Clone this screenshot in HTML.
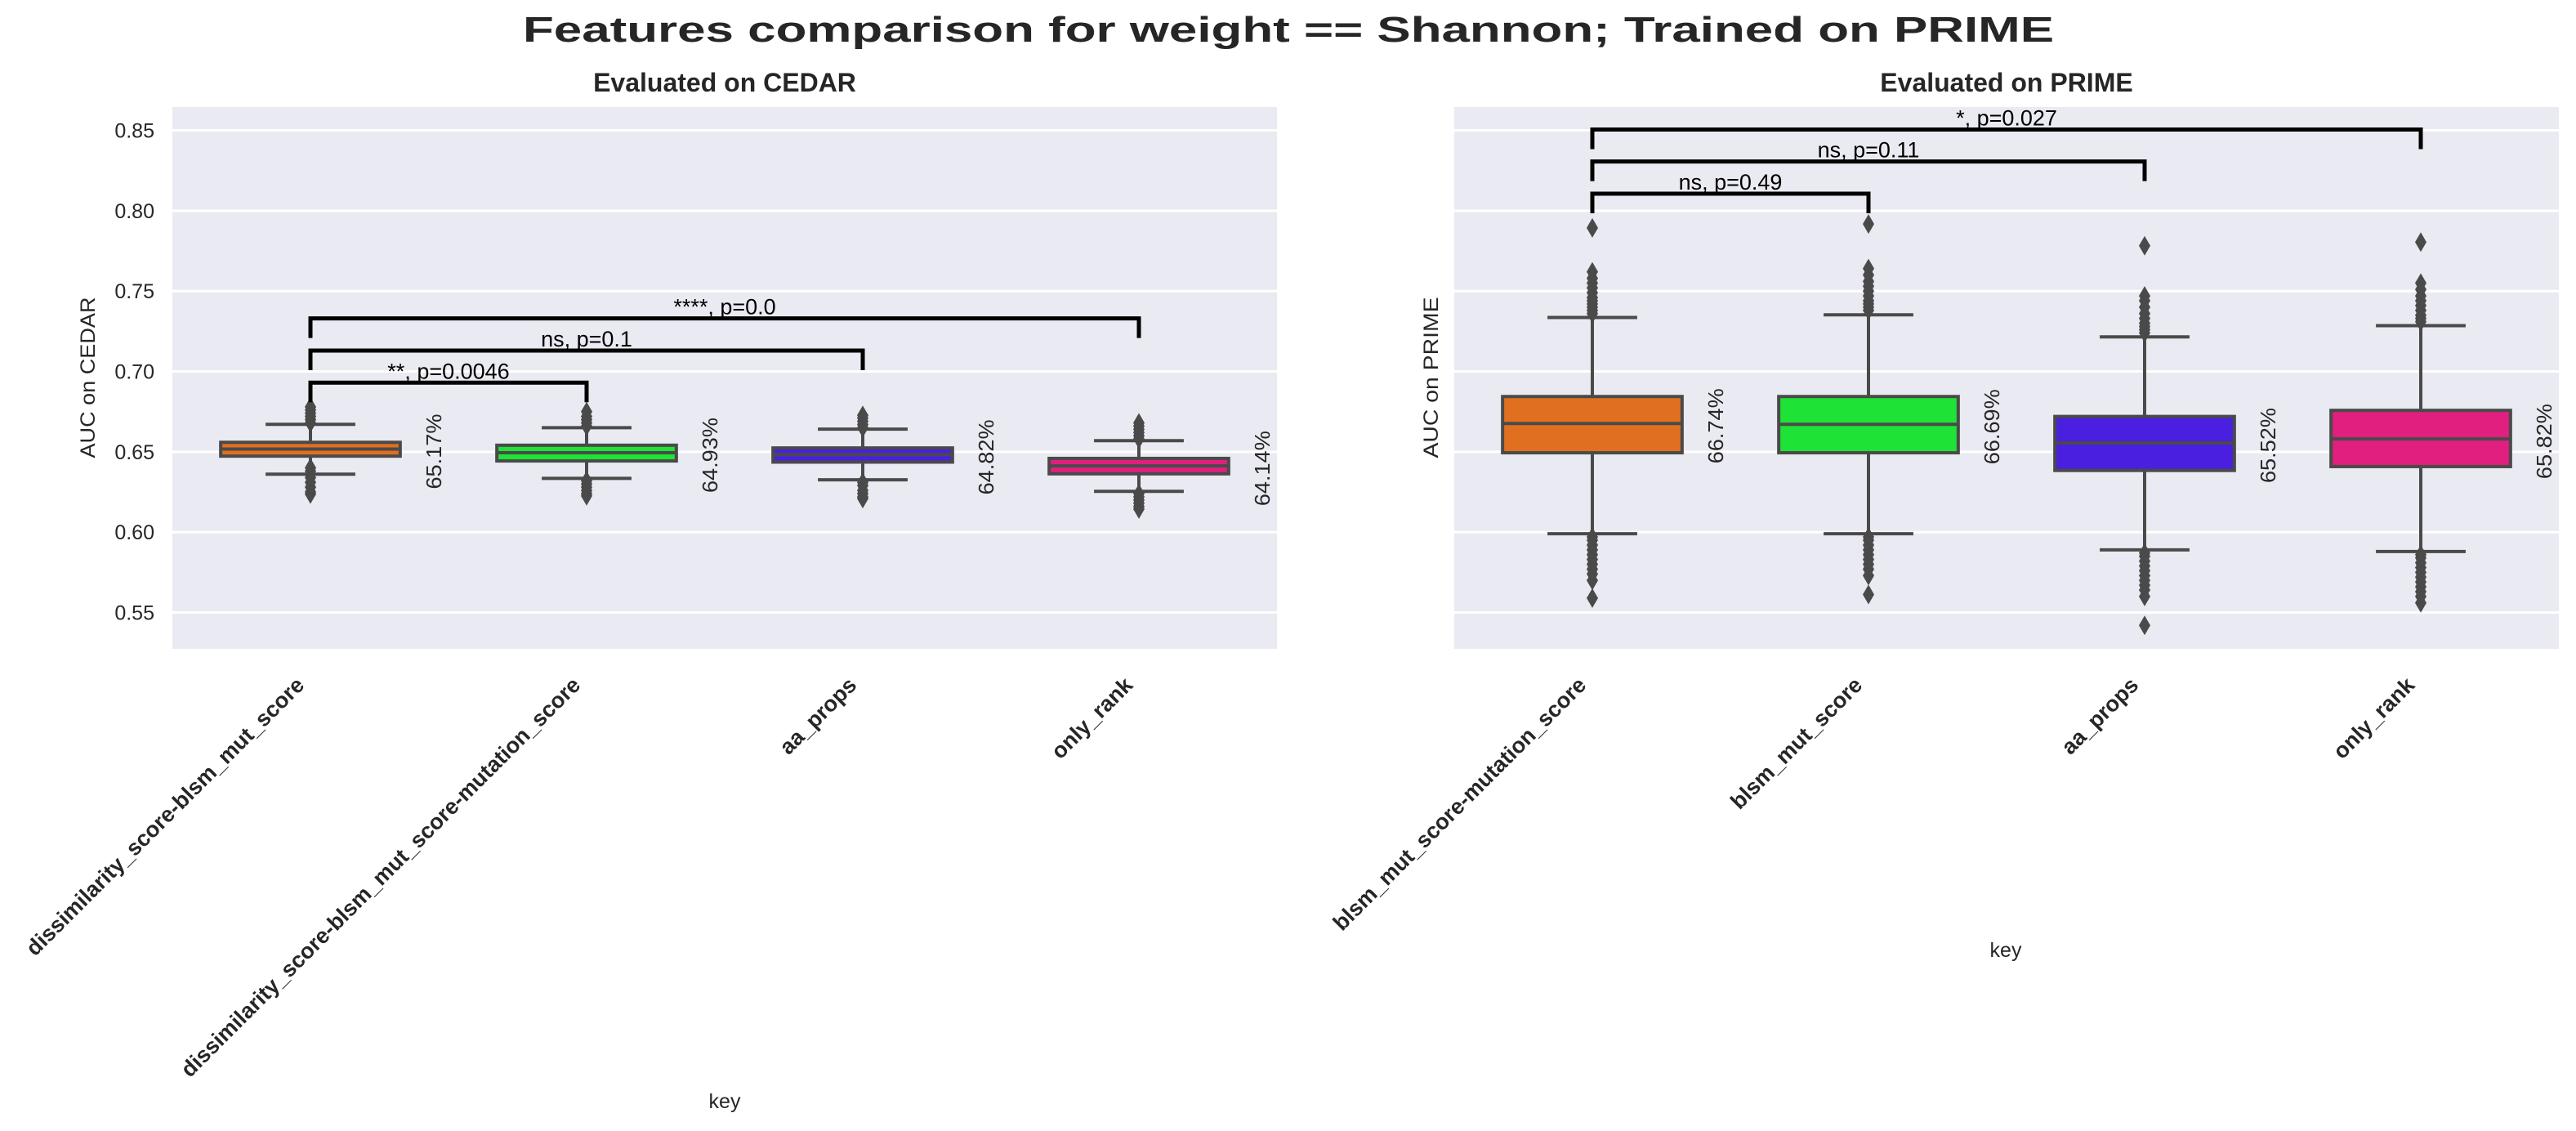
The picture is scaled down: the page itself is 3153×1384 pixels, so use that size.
<!DOCTYPE html>
<html><head><meta charset="utf-8"><style>
html,body{margin:0;padding:0;background:#fff}
svg{display:block}
text{font-family:"Liberation Sans",Arial,sans-serif;fill:#262626}
</style></head><body>
<svg id="chart" width="3153" height="1384" viewBox="0 0 3153 1384" xmlns="http://www.w3.org/2000/svg">
<text x="1577" y="51" text-anchor="middle" font-size="44" font-weight="bold" textLength="1874" lengthAdjust="spacingAndGlyphs">Features comparison for weight == Shannon; Trained on PRIME</text>
</svg>
<script>
// ---- data ----
const leftCategories = ["dissimilarity_score-blsm_mut_score","dissimilarity_score-blsm_mut_score-mutation_score","aa_props","only_rank"];
const leftQ1 = [0.6473,0.6443,0.6436,0.6363];
const leftMedian = [0.6517,0.6494,0.6482,0.6412];
const leftQ3 = [0.6559,0.6541,0.6524,0.6459];
const leftWhiskLo = [0.6361,0.6335,0.6326,0.6254];
const leftWhiskHi = [0.6671,0.6650,0.6641,0.6569];
const leftFliers = [
 [0.6680,0.6700,0.6720,0.6740,0.6760,0.6779,0.6400,0.6380,0.6340,0.6310,0.6280,0.6250,0.6237],
 [0.6660,0.6680,0.6700,0.6720,0.6750,0.6320,0.6300,0.6280,0.6260,0.6240,0.6226],
 [0.6650,0.6670,0.6690,0.6710,0.6727,0.6310,0.6290,0.6260,0.6240,0.6220,0.6209],
 [0.6580,0.6600,0.6620,0.6640,0.6660,0.6680,0.6240,0.6220,0.6200,0.6180,0.6160,0.6144]
];
const leftPct = ["65.17%","64.93%","64.82%","64.14%"];
const leftPairs = [[0,1],[0,2],[0,3]];
const leftPairTop = [0.693,0.713,0.733];
const leftPairText = ["**, p=0.0046","ns, p=0.1","****, p=0.0"];

const rightCategories = ["blsm_mut_score-mutation_score","blsm_mut_score","aa_props","only_rank"];
const rightQ1 = [0.6494,0.6494,0.6384,0.6408];
const rightMedian = [0.6676,0.6671,0.6555,0.6580];
const rightQ3 = [0.6844,0.6844,0.6720,0.6758];
const rightWhiskLo = [0.5990,0.5990,0.5890,0.5880];
const rightWhiskHi = [0.7336,0.7352,0.7215,0.7285];
const rightFliers = [
 [0.7360,0.7380,0.7400,0.7420,0.7440,0.7460,0.7490,0.7520,0.7550,0.7580,0.7620,0.7893,
  0.5970,0.5950,0.5920,0.5890,0.5860,0.5830,0.5800,0.5770,0.5740,0.5700,0.5590],
 [0.7380,0.7400,0.7420,0.7440,0.7470,0.7500,0.7530,0.7560,0.7600,0.7640,0.7917,
  0.5970,0.5950,0.5920,0.5890,0.5860,0.5830,0.5800,0.5770,0.5730,0.5612],
 [0.7240,0.7260,0.7280,0.7300,0.7330,0.7360,0.7400,0.7440,0.7470,0.7782,
  0.5870,0.5850,0.5820,0.5790,0.5760,0.5730,0.5700,0.5670,0.5640,0.5600,0.5420],
 [0.7310,0.7330,0.7350,0.7380,0.7410,0.7440,0.7470,0.7510,0.7550,0.7805,
  0.5860,0.5840,0.5810,0.5780,0.5750,0.5720,0.5690,0.5660,0.5630,0.5600,0.5560]
];
const rightPct = ["66.74%","66.69%","65.52%","65.82%"];
const rightPairs = [[0,1],[0,2],[0,3]];
const rightPairTop = [0.8106,0.8306,0.8505];
const rightPairText = ["ns, p=0.49","ns, p=0.11","*, p=0.027"];

const colors = ["#E07020","#1EE336","#4A1FE0","#E01F7F"];
const yTicks = [0.55,0.60,0.65,0.70,0.75,0.80,0.85];
const yTickLabels = ["0.55","0.60","0.65","0.70","0.75","0.80","0.85"];

// ---- drawing ----
const NS = "http://www.w3.org/2000/svg";
const svg = document.getElementById("chart");
const Y0 = 131, Y1 = 794, VMIN = 0.5274, VMAX = 0.8645;
function yScale(v){ return Y0 + (VMAX - v) / (VMAX - VMIN) * (Y1 - Y0); }
function mk(tag, attrs, parent){
  const e = document.createElementNS(NS, tag);
  for (const k in attrs) e.setAttribute(k, attrs[k]);
  (parent || svg).appendChild(e);
  return e;
}

function panel(cfg){
  const g = mk("g", {});
  
  
  const x0 = cfg.x0, x1 = cfg.x1, n = cfg.cats.length, band = (x1 - x0) / n;
  const xScale = i => x0 + band * (i + 0.5);
  const bg = mk("rect", {x:x0, y:Y0, width:x1-x0, height:Y1-Y0, fill:"#EAEAF2"}, g);
  
  
  yTicks.forEach((t, i) => {
    const gl = mk("line", {x1:x0, x2:x1, y1:yScale(t), y2:yScale(t), stroke:"#fff", "stroke-width":3}, g);
    
    
    if (cfg.showTicks){
      const tl = mk("text", {x:x0-22, y:yScale(t)+9, "text-anchor":"end", "font-size":25}, g);
      tl.textContent = yTickLabels[i];
      
      
    }
  });
  const bw = band * 0.65;
  for (let i = 0; i < n; i++){
    const cx = xScale(i);
    const bx = mk("g", {}, g);
    
    
    const st = {stroke:"#4a4a4a", "stroke-width":4};
    mk("line", Object.assign({x1:cx, x2:cx, y1:yScale(cfg.q3[i]), y2:yScale(cfg.wh[i])}, st), bx);
    mk("line", Object.assign({x1:cx, x2:cx, y1:yScale(cfg.q1[i]), y2:yScale(cfg.wl[i])}, st), bx);
    mk("line", Object.assign({x1:cx-bw/4, x2:cx+bw/4, y1:yScale(cfg.wh[i]), y2:yScale(cfg.wh[i])}, st), bx);
    mk("line", Object.assign({x1:cx-bw/4, x2:cx+bw/4, y1:yScale(cfg.wl[i]), y2:yScale(cfg.wl[i])}, st), bx);
    mk("rect", Object.assign({x:cx-bw/2, y:yScale(cfg.q3[i]), width:bw, height:yScale(cfg.q1[i])-yScale(cfg.q3[i]), fill:colors[i]}, st), bx);
    mk("line", Object.assign({x1:cx-bw/2, x2:cx+bw/2, y1:yScale(cfg.med[i]), y2:yScale(cfg.med[i])}, st), bx);
    cfg.fl[i].forEach(v => {
      const y = yScale(v);
      const d = mk("path", {d:`M${cx} ${y-12}L${cx+7} ${y}L${cx} ${y+12}L${cx-7} ${y}Z`, fill:"#4a4a4a"}, bx);
      
      
    });
    const px = cx + 151, py = yScale(cfg.med[i]) + 3;
    const pt = mk("text", {x:px, y:py, transform:`rotate(-90 ${px} ${py})`, "text-anchor":"middle", "font-size":26, dy:"9", textLength:92, lengthAdjust:"spacingAndGlyphs"}, g);
    pt.textContent = cfg.pct[i];
    
    
    const tx = cx - 6, ty = 840;
    const tk = mk("text", {x:tx, y:ty, transform:`rotate(-45 ${tx} ${ty})`, "text-anchor":"end", "font-size":27, "font-weight":"bold"}, g);
    tk.textContent = cfg.cats[i];
    
    
  }
  cfg.pairs.forEach((p, k) => {
    const xa = xScale(p[0]), xb = xScale(p[1]), yt = yScale(cfg.pairTop[k]), yb = yt + 24;
    const br = mk("path", {d:`M${xa} ${yb}L${xa} ${yt}L${xb} ${yt}L${xb} ${yb}`, fill:"none", stroke:"#000", "stroke-width":5}, g);
    
    
    const bt = mk("text", {x:(xa+xb)/2, y:yt-5, "text-anchor":"middle", "font-size":27, style:"fill:#000"}, g);
    bt.textContent = cfg.pairText[k];
    
    
  });
  const st = mk("text", {x:(x0+x1)/2, y:112, "text-anchor":"middle", "font-size":32, "font-weight":"bold"}, g);
  st.textContent = cfg.title;
  
  
  const yl = mk("text", {x:cfg.ylx, y:462, transform:`rotate(-90 ${cfg.ylx} 462)`, "text-anchor":"middle", "font-size":25, dy:"9", textLength:197, lengthAdjust:"spacingAndGlyphs"}, g);
  yl.textContent = cfg.ylabel;
  
  
  const xl = mk("text", {x:cfg.xlx, y:cfg.xly, "text-anchor":"middle", "font-size":25}, g);
  xl.textContent = "key";
  
  
}

panel({name:"cedar-panel", x0:211, x1:1563, cats:leftCategories, q1:leftQ1, med:leftMedian, q3:leftQ3, wl:leftWhiskLo, wh:leftWhiskHi, fl:leftFliers, pct:leftPct, pairs:leftPairs, pairTop:leftPairTop, pairText:leftPairText, showTicks:true, title:"Evaluated on CEDAR", ylabel:"AUC on CEDAR", ylx:107, xlx:887, xly:1356});
panel({name:"prime-panel", x0:1780, x1:3132, cats:rightCategories, q1:rightQ1, med:rightMedian, q3:rightQ3, wl:rightWhiskLo, wh:rightWhiskHi, fl:rightFliers, pct:rightPct, pairs:rightPairs, pairTop:rightPairTop, pairText:rightPairText, showTicks:false, title:"Evaluated on PRIME", ylabel:"AUC on PRIME", ylx:1751, xlx:2455, xly:1171});
</script>
</body></html>
